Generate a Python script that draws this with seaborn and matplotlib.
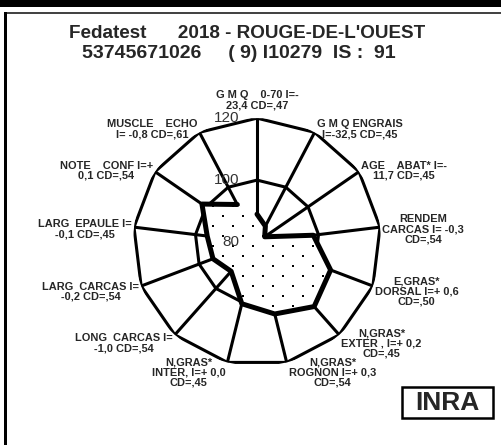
import numpy as np
import pandas as pd
import seaborn as sns
import matplotlib.pyplot as plt
from matplotlib.patches import Rectangle

# axis labels, clockwise from the top
labels = [
    "G M Q    0-70 I=-\n23,4 CD=,47",
    "G M Q ENGRAIS\nI=-32,5 CD=,45",
    "AGE    ABAT* I=-\n11,7 CD=,45",
    "RENDEM\nCARCAS I= -0,3\nCD=,54",
    "E,GRAS*\nDORSAL I=+ 0,6\nCD=,50",
    "N,GRAS*\nEXTER , I=+ 0,2\nCD=,45",
    "N,GRAS*\nROGNON I=+ 0,3\nCD=,54",
    "N,GRAS*\nINTER, I=+ 0,0\nCD=,45",
    "LONG  CARCAS I=\n-1,0 CD=,54",
    "LARG  CARCAS I=\n-0,2 CD=,54",
    "LARG  EPAULE I=\n-0,1 CD=,45",
    "NOTE    CONF I=+\n0,1 CD=,54",
    "MUSCLE    ECHO\nI= -0,8 CD=,61",
]
# index values
values = [89.0, 85.8, 83.0, 98.3, 105.4, 107.8, 103.9, 100.5, 92.6, 95.2, 96.2, 101.6, 93.7]
rings = [100, 120]
ring_labels = [80, 100, 120]
r_min, r_max = 80, 120

title_1 = "Fedatest      2018 - ROUGE-DE-L'OUEST"
title_2 = "53745671026     ( 9) I10279  IS :  91"

sns.set_theme(style="white")
plt.rcParams["font.family"] = ["Liberation Sans", "DejaVu Sans"]

fig = plt.figure(figsize=(5.02, 4.45), dpi=100)
ax = fig.add_axes([0.265, 0.1775, 0.494, 0.557], projection="polar")
ax.set_theta_zero_location("N")
ax.set_theta_direction(-1)
ax.set_ylim(r_min, r_max)
ax.grid(False)
ax.spines["polar"].set_visible(False)
ax.set_xticks([])
ax.set_yticks([])
ax.patch.set_alpha(0)

n = len(labels)
theta = np.arange(n) * 2 * np.pi / n
theta_closed = np.append(theta, theta[0])

# web: spokes and straight rings
for t in theta:
    ax.plot([t, t], [r_min, r_max], color="black", lw=2.2, zorder=2,
            solid_capstyle="butt")
for r in rings:
    ax.plot(theta_closed, [r] * (n + 1), color="black", lw=2.2, zorder=2)

# data polygon, white fill with a dot screen and a thick outline
df = pd.DataFrame({"theta": theta_closed, "value": values + values[:1]})
poly = ax.fill(df["theta"], df["value"], facecolor="white", linewidth=0, zorder=3)[0]

# dot screen (staggered grid in pixels), clipped to the polygon
step = 20.0
gx, gy = [], []
for row, y in enumerate(np.arange(0, 250, step / 2)):
    off = 0 if row % 2 == 0 else step / 2
    for x in np.arange(off, 250, step):
        gx.append(x / 248)
        gy.append(y / 248)
dots = ax.scatter(gx, gy, transform=ax.transAxes, marker="s", s=3.6,
                  color="black", linewidths=0, zorder=3.5)
dots.set_clip_path(poly)

sns.lineplot(data=df, x="theta", y="value", sort=False, ax=ax,
             color="black", lw=3.6, zorder=4)
ax.set_xlabel("")
ax.set_ylabel("")

# scale labels left of the top spoke
for v in ring_labels:
    ax.annotate(str(v), xy=(0, v), xytext=(-13, 0), textcoords="offset points",
                ha="right", va="center", fontsize=11, color="#333333", zorder=6)

# axis labels at the outer vertices
for t, lab in zip(theta, labels):
    s, c = np.sin(t), np.cos(t)
    if abs(s) < 0.1:
        ha, dx, dy = "center", 0, 13
    else:
        ha = "left" if s > 0 else "right"
        dx = 1.5 if s > 0 else -1.5
        dy = -(3 - 7 * c) * 0.72
    ax.annotate(lab, xy=(t, r_max), xytext=(dx, dy), textcoords="offset points",
                ha=ha, va="center", multialignment="center", fontsize=7.9,
                fontweight="bold", linespacing=1.0, zorder=6)

# titles
fig.text(247 / 502, 1 - 33.5 / 445, title_1, ha="center", va="center",
         fontsize=13.6, fontweight="bold")
fig.text(239 / 502, 1 - 53.5 / 445, title_2, ha="center", va="center",
         fontsize=14, fontweight="bold")

# INRA box
fig.add_artist(Rectangle((402 / 502, 1 - 418 / 445), 91 / 502, 31 / 445,
                         transform=fig.transFigure, facecolor="white",
                         edgecolor="black", linewidth=1.8))
fig.text(447 / 502, 1 - 403 / 445, "INRA", ha="center", va="center",
         fontsize=19, fontweight="bold")

# frame: top bar, thin top rule, left edge
fig.add_artist(Rectangle((0, 1 - 7 / 445), 1, 7 / 445, transform=fig.transFigure,
                         facecolor="black", edgecolor="none"))
fig.add_artist(Rectangle((4 / 502, 1 - 14 / 445), 1, 2 / 445, transform=fig.transFigure,
                         facecolor="#444444", edgecolor="none"))
fig.add_artist(Rectangle((4 / 502, 0), 3 / 502, 1 - 12 / 445, transform=fig.transFigure,
                         facecolor="black", edgecolor="none"))

fig.savefig("out.png", dpi=100)
